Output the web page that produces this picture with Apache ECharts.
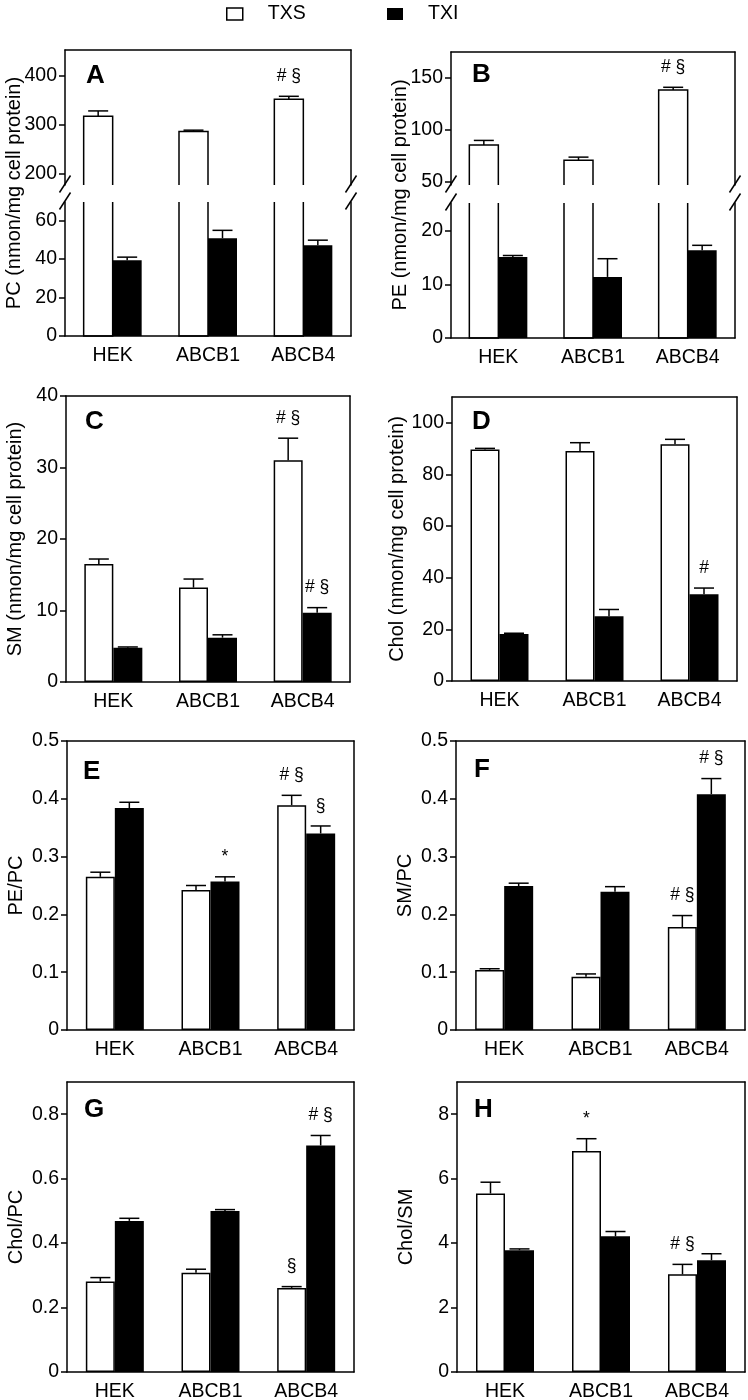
<!DOCTYPE html>
<html><head><meta charset="utf-8">
<script src="https://cdn.jsdelivr.net/npm/echarts@6/dist/echarts.min.js"></script>
<style>html,body{margin:0;padding:0;background:#fff}#c{width:748px;height:1400px}</style>
</head><body><div id="c"></div>
<script>
const categories = ['HEK', 'ABCB1', 'ABCB4'];
const seriesNames = ['TXS', 'TXI'];

// Panel A: PC (nmon/mg cell protein), broken axis
const pcTXS = [317, 286, 352];
const pcTXSErr = [11, 2.5, 6];
const pcTXI = [39.3, 50.7, 47.1];
const pcTXIErr = [1.6, 4.1, 2.6];
const pcTXSNote = ['', '', '# §'];
const pcTXINote = ['', '', ''];
const pcUpperTicks = [200, 300, 400];
const pcLowerTicks = [0, 20, 40, 60];

// Panel B: PE (nmon/mg cell protein), broken axis
const peTXS = [85.0, 70.6, 137.8];
const peTXSErr = [4.5, 2.9, 2.6];
const peTXI = [15.1, 11.4, 16.4];
const peTXIErr = [0.3, 3.4, 0.9];
const peTXSNote = ['', '', '# §'];
const peTXINote = ['', '', ''];
const peUpperTicks = [50, 100, 150];
const peLowerTicks = [0, 10, 20];

// Panel C: SM
const smTXS = [16.5, 13.2, 31.0];
const smTXSErr = [0.7, 1.2, 3.1];
const smTXI = [4.8, 6.2, 9.7];
const smTXIErr = [0.1, 0.4, 0.7];
const smTXSNote = ['', '', '# §'];
const smTXINote = ['', '', '# §'];
const smTicks = [0, 10, 20, 30, 40];

// Panel D: Chol
const cholTXS = [89.7, 89.1, 91.7];
const cholTXSErr = [0.4, 3.2, 1.9];
const cholTXI = [18.2, 25.1, 33.6];
const cholTXIErr = [0.3, 2.6, 2.4];
const cholTXSNote = ['', '', ''];
const cholTXINote = ['', '', '#'];
const cholTicks = [0, 20, 40, 60, 80, 100];

// Panel E: PE/PC
const pePcTXS = [0.265, 0.242, 0.389];
const pePcTXSErr = [0.008, 0.008, 0.017];
const pePcTXI = [0.384, 0.257, 0.340];
const pePcTXIErr = [0.010, 0.008, 0.013];
const pePcTXSNote = ['', '', '# §'];
const pePcTXINote = ['', '*', '§'];
const pePcTicks = [0, 0.1, 0.2, 0.3, 0.4, 0.5];

// Panel F: SM/PC
const smPcTXS = [0.104, 0.092, 0.178];
const smPcTXSErr = [0.002, 0.005, 0.020];
const smPcTXI = [0.249, 0.239, 0.408];
const smPcTXIErr = [0.005, 0.009, 0.027];
const smPcTXSNote = ['', '', '# §'];
const smPcTXINote = ['', '', '# §'];
const smPcTicks = [0, 0.1, 0.2, 0.3, 0.4, 0.5];

// Panel G: Chol/PC
const cholPcTXS = [0.281, 0.308, 0.261];
const cholPcTXSErr = [0.012, 0.011, 0.004];
const cholPcTXI = [0.469, 0.500, 0.703];
const cholPcTXIErr = [0.008, 0.004, 0.031];
const cholPcTXSNote = ['', '', '§'];
const cholPcTXINote = ['', '', '# §'];
const cholPcTicks = [0, 0.2, 0.4, 0.6, 0.8];

// Panel H: Chol/SM
const cholSmTXS = [5.54, 6.86, 3.03];
const cholSmTXSErr = [0.35, 0.38, 0.31];
const cholSmTXI = [3.78, 4.21, 3.47];
const cholSmTXIErr = [0.04, 0.15, 0.20];
const cholSmTXSNote = ['', '*', '# §'];
const cholSmTXINote = ['', '', ''];
const cholSmTicks = [0, 2, 4, 6, 8];

const FONT = '"Liberation Sans", Arial, Helvetica, sans-serif';
const BAR_W = 29;
const LINE = {color: '#000', width: 1.5};

const panels = [
  {letter: 'A', title: 'PC (nmon/mg cell protein)', txs: pcTXS, txsErr: pcTXSErr, txi: pcTXI, txiErr: pcTXIErr, txsNote: pcTXSNote, txiNote: pcTXINote,
   broken: {upper: {min: 176, max: 453, ticks: pcUpperTicks}, lower: {min: 0, max: 69.5, ticks: pcLowerTicks}},
   box: {left: 65, width: 286, top: 50, upperBottom: 185, lowerTop: 202, bottom: 336}, lpos: [86, 76]},
  {letter: 'B', title: 'PE (nmon/mg cell protein)', txs: peTXS, txsErr: peTXSErr, txi: peTXI, txiErr: peTXIErr, txsNote: peTXSNote, txiNote: peTXINote,
   broken: {upper: {min: 46.8, max: 174.2, ticks: peUpperTicks}, lower: {min: 0, max: 25.2, ticks: peLowerTicks}},
   box: {left: 451, width: 284, top: 52, upperBottom: 185, lowerTop: 203, bottom: 338}, lpos: [472, 75]},
  {letter: 'C', title: 'SM (nmon/mg cell protein)', txs: smTXS, txsErr: smTXSErr, txi: smTXI, txiErr: smTXIErr, txsNote: smTXSNote, txiNote: smTXINote,
   axis: {min: 0, max: 40, ticks: smTicks}, box: {left: 66, width: 284, top: 396, bottom: 682}, lpos: [85, 422]},
  {letter: 'D', title: 'Chol (nmon/mg cell protein)', txs: cholTXS, txsErr: cholTXSErr, txi: cholTXI, txiErr: cholTXIErr, txsNote: cholTXSNote, txiNote: cholTXINote,
   axis: {min: 0, max: 110, ticks: cholTicks}, box: {left: 452, width: 285, top: 397, bottom: 681}, lpos: [472, 422]},
  {letter: 'E', title: 'PE/PC', txs: pePcTXS, txsErr: pePcTXSErr, txi: pePcTXI, txiErr: pePcTXIErr, txsNote: pePcTXSNote, txiNote: pePcTXINote,
   axis: {min: 0, max: 0.5, ticks: pePcTicks}, box: {left: 67, width: 287, top: 741, bottom: 1030}, lpos: [83, 772]},
  {letter: 'F', title: 'SM/PC', txs: smPcTXS, txsErr: smPcTXSErr, txi: smPcTXI, txiErr: smPcTXIErr, txsNote: smPcTXSNote, txiNote: smPcTXINote,
   axis: {min: 0, max: 0.5, ticks: smPcTicks}, box: {left: 456, width: 289, top: 741, bottom: 1030}, lpos: [474, 770]},
  {letter: 'G', title: 'Chol/PC', txs: cholPcTXS, txsErr: cholPcTXSErr, txi: cholPcTXI, txiErr: cholPcTXIErr, txsNote: cholPcTXSNote, txiNote: cholPcTXINote,
   axis: {min: 0, max: 0.9, ticks: cholPcTicks}, box: {left: 67, width: 287, top: 1082, bottom: 1372}, lpos: [84, 1110]},
  {letter: 'H', title: 'Chol/SM', txs: cholSmTXS, txsErr: cholSmTXSErr, txi: cholSmTXI, txiErr: cholSmTXIErr, txsNote: cholSmTXSNote, txiNote: cholSmTXINote,
   axis: {min: 0, max: 9, ticks: cholSmTicks}, box: {left: 457, width: 288, top: 1082, bottom: 1372}, lpos: [474, 1110]}
];

const grid = [], xAxis = [], yAxis = [], series = [], graphic = [];

function addCartesian(o) {
  const gi = grid.length;
  grid.push({left: o.left, top: o.top, width: o.width, height: o.height, containLabel: false, outerBoundsMode: 'none', show: false});
  const xi = xAxis.length;
  xAxis.push({gridIndex: gi, type: 'category', data: categories, position: 'bottom',
    axisLine: {show: o.bottomLine, onZero: false, lineStyle: LINE}, axisTick: {show: false},
    axisLabel: {show: o.labels, color: '#000', fontSize: 19.5, margin: 10, fontFamily: FONT}, splitLine: {show: false}});
  xAxis.push({gridIndex: gi, type: 'category', data: categories, position: 'top',
    axisLine: {show: o.topLine, onZero: false, lineStyle: LINE}, axisTick: {show: false}, axisLabel: {show: false}, splitLine: {show: false}});
  const yi = yAxis.length;
  yAxis.push({gridIndex: gi, type: 'value', min: o.min, max: o.max, position: 'left',
    name: o.name || '', nameLocation: 'middle', nameGap: 41,
    nameTextStyle: {color: '#000', fontSize: 20, fontFamily: FONT},
    axisLine: {show: true, onZero: false, lineStyle: LINE},
    axisTick: {show: true, length: 6, inside: false, customValues: o.ticks, lineStyle: LINE},
    axisLabel: {customValues: o.ticks, color: '#000', fontSize: 19.5, margin: 8, fontFamily: FONT},
    splitLine: {show: false}});
  yAxis.push({gridIndex: gi, type: 'value', min: o.min, max: o.max, position: 'right',
    axisLine: {show: true, onZero: false, lineStyle: LINE}, axisTick: {show: false}, axisLabel: {show: false}, splitLine: {show: false}});
  return {xi, yi};
}

function errRender(offset, notes) {
  return function (params, api) {
    const i = api.value(0), v = api.value(1), e = api.value(2);
    const p0 = api.coord([i, v]);
    const p1 = api.coord([i, v + e]);
    const x = p0[0] + offset;
    const children = [
      {type: 'line', shape: {x1: x, y1: p0[1], x2: x, y2: p1[1]}, style: {stroke: '#000', lineWidth: 1.5}},
      {type: 'line', shape: {x1: x - 10, y1: p1[1], x2: x + 10, y2: p1[1]}, style: {stroke: '#000', lineWidth: 1.5}}
    ];
    const note = notes[params.dataIndex];
    if (note) {
      children.push({type: 'text', x: x, y: p1[1] - 20,
        style: {text: note, fill: '#000', font: '17.5px ' + FONT, textAlign: 'center', textVerticalAlign: 'middle'}});
    }
    return {type: 'group', children};
  };
}

function openBarRender(part) {
  return function (params, api) {
    const i = api.value(0), v = api.value(1);
    const cs = params.coordSys;
    const c = api.coord([i, v]);
    const x0 = c[0] - BAR_W, x1 = c[0];
    let pts;
    if (part === 'upper') {
      const yb = cs.y + cs.height;
      pts = [[x0, yb], [x0, c[1]], [x1, c[1]], [x1, yb]];
    } else {
      const yb = api.coord([i, 0])[1];
      const yt = cs.y;
      pts = [[x0, yt], [x0, yb], [x1, yb], [x1, yt]];
    }
    return {type: 'polyline', shape: {points: pts}, style: {stroke: '#000', lineWidth: 1.5, fill: null}};
  };
}

function triples(vals, errs) { return vals.map((v, i) => [i, v, errs[i]]); }

function slash(x, y) {
  graphic.push({type: 'line', shape: {x1: x - 5.5, y1: y + 8.5, x2: x + 5.5, y2: y - 8.5}, style: {stroke: '#000', lineWidth: 1.5}, z: 100});
}

panels.forEach(p => {
  const b = p.box;
  if (p.broken) {
    const gi = grid.length;
    grid.push({left: b.left, top: b.top, width: b.width, height: b.bottom - b.top, containLabel: false, outerBoundsMode: 'none', show: false});
    xAxis.push({gridIndex: gi, type: 'category', data: categories, show: false});
    yAxis.push({gridIndex: gi, type: 'value', min: 0, max: 1, name: p.title, nameLocation: 'middle', nameGap: 41,
      nameTextStyle: {color: '#000', fontSize: 20, fontFamily: FONT},
      axisLine: {show: false}, axisTick: {show: false}, axisLabel: {show: false}, splitLine: {show: false}});
    const up = addCartesian({left: b.left, top: b.top, width: b.width, height: b.upperBottom - b.top,
      min: p.broken.upper.min, max: p.broken.upper.max, ticks: p.broken.upper.ticks, labels: false, bottomLine: false, topLine: true});
    const lo = addCartesian({left: b.left, top: b.lowerTop, width: b.width, height: b.bottom - b.lowerTop,
      min: p.broken.lower.min, max: p.broken.lower.max, ticks: p.broken.lower.ticks, labels: true, bottomLine: true, topLine: false});
    series.push({type: 'custom', xAxisIndex: up.xi, yAxisIndex: up.yi, data: triples(p.txs, p.txsErr), renderItem: openBarRender('upper'), clip: false, silent: true});
    series.push({type: 'custom', xAxisIndex: up.xi, yAxisIndex: up.yi, data: triples(p.txs, p.txsErr), renderItem: errRender(-BAR_W / 2, p.txsNote), clip: false, silent: true, z: 3});
    series.push({type: 'bar', xAxisIndex: lo.xi, yAxisIndex: lo.yi, data: p.txs, barWidth: BAR_W, barGap: '0%', silent: true,
      itemStyle: {color: 'rgba(0,0,0,0)', borderWidth: 0}});
    series.push({type: 'bar', xAxisIndex: lo.xi, yAxisIndex: lo.yi, data: p.txi, barWidth: BAR_W, barGap: '0%', silent: true,
      itemStyle: {color: '#000'}});
    series.push({type: 'custom', xAxisIndex: lo.xi, yAxisIndex: lo.yi, data: triples(p.txs, p.txsErr), renderItem: openBarRender('lower'), clip: false, silent: true});
    series.push({type: 'custom', xAxisIndex: lo.xi, yAxisIndex: lo.yi, data: triples(p.txi, p.txiErr), renderItem: errRender(BAR_W / 2, p.txiNote), clip: false, silent: true, z: 3});
    [b.left, b.left + b.width].forEach(x => { slash(x, b.upperBottom - 1); slash(x, b.lowerTop - 1); });
  } else {
    const c = addCartesian({left: b.left, top: b.top, width: b.width, height: b.bottom - b.top,
      min: p.axis.min, max: p.axis.max, ticks: p.axis.ticks, labels: true, bottomLine: true, topLine: true, name: p.title});
    series.push({type: 'bar', name: seriesNames[0], xAxisIndex: c.xi, yAxisIndex: c.yi, data: p.txs, barWidth: BAR_W, barGap: '0%', silent: true,
      itemStyle: {color: '#fff', borderColor: '#000', borderWidth: 1.5}});
    series.push({type: 'bar', name: seriesNames[1], xAxisIndex: c.xi, yAxisIndex: c.yi, data: p.txi, barWidth: BAR_W, barGap: '0%', silent: true,
      itemStyle: {color: '#000'}});
    series.push({type: 'custom', xAxisIndex: c.xi, yAxisIndex: c.yi, data: triples(p.txs, p.txsErr), renderItem: errRender(-BAR_W / 2, p.txsNote), clip: false, silent: true, z: 3});
    series.push({type: 'custom', xAxisIndex: c.xi, yAxisIndex: c.yi, data: triples(p.txi, p.txiErr), renderItem: errRender(BAR_W / 2, p.txiNote), clip: false, silent: true, z: 3});
  }
  graphic.push({type: 'text', x: p.lpos[0], y: p.lpos[1], z: 100,
    style: {text: p.letter, fill: '#000', font: 'bold 26px ' + FONT, textAlign: 'left', textVerticalAlign: 'middle'}});
});

const legendCommon = {orient: 'horizontal', top: 4, padding: 0, itemWidth: 16, itemHeight: 12, icon: 'rect', selectedMode: false,
  textStyle: {color: '#000', fontSize: 19.5, fontFamily: FONT, padding: [0, 0, 0, 20]}};

const option = {
  animation: false,
  backgroundColor: '#fff',
  textStyle: {fontFamily: FONT},
  legend: [
    Object.assign({}, legendCommon, {left: 226, data: [{name: seriesNames[0], itemStyle: {color: '#fff', borderColor: '#000', borderWidth: 1.5}}]}),
    Object.assign({}, legendCommon, {left: 387, data: [{name: seriesNames[1], itemStyle: {color: '#000', borderColor: '#000', borderWidth: 0}}]})
  ],
  grid, xAxis, yAxis, series, graphic
};

const chart = echarts.init(document.getElementById('c'), null, {renderer: 'canvas'});
chart.setOption(option);
</script></body></html>
